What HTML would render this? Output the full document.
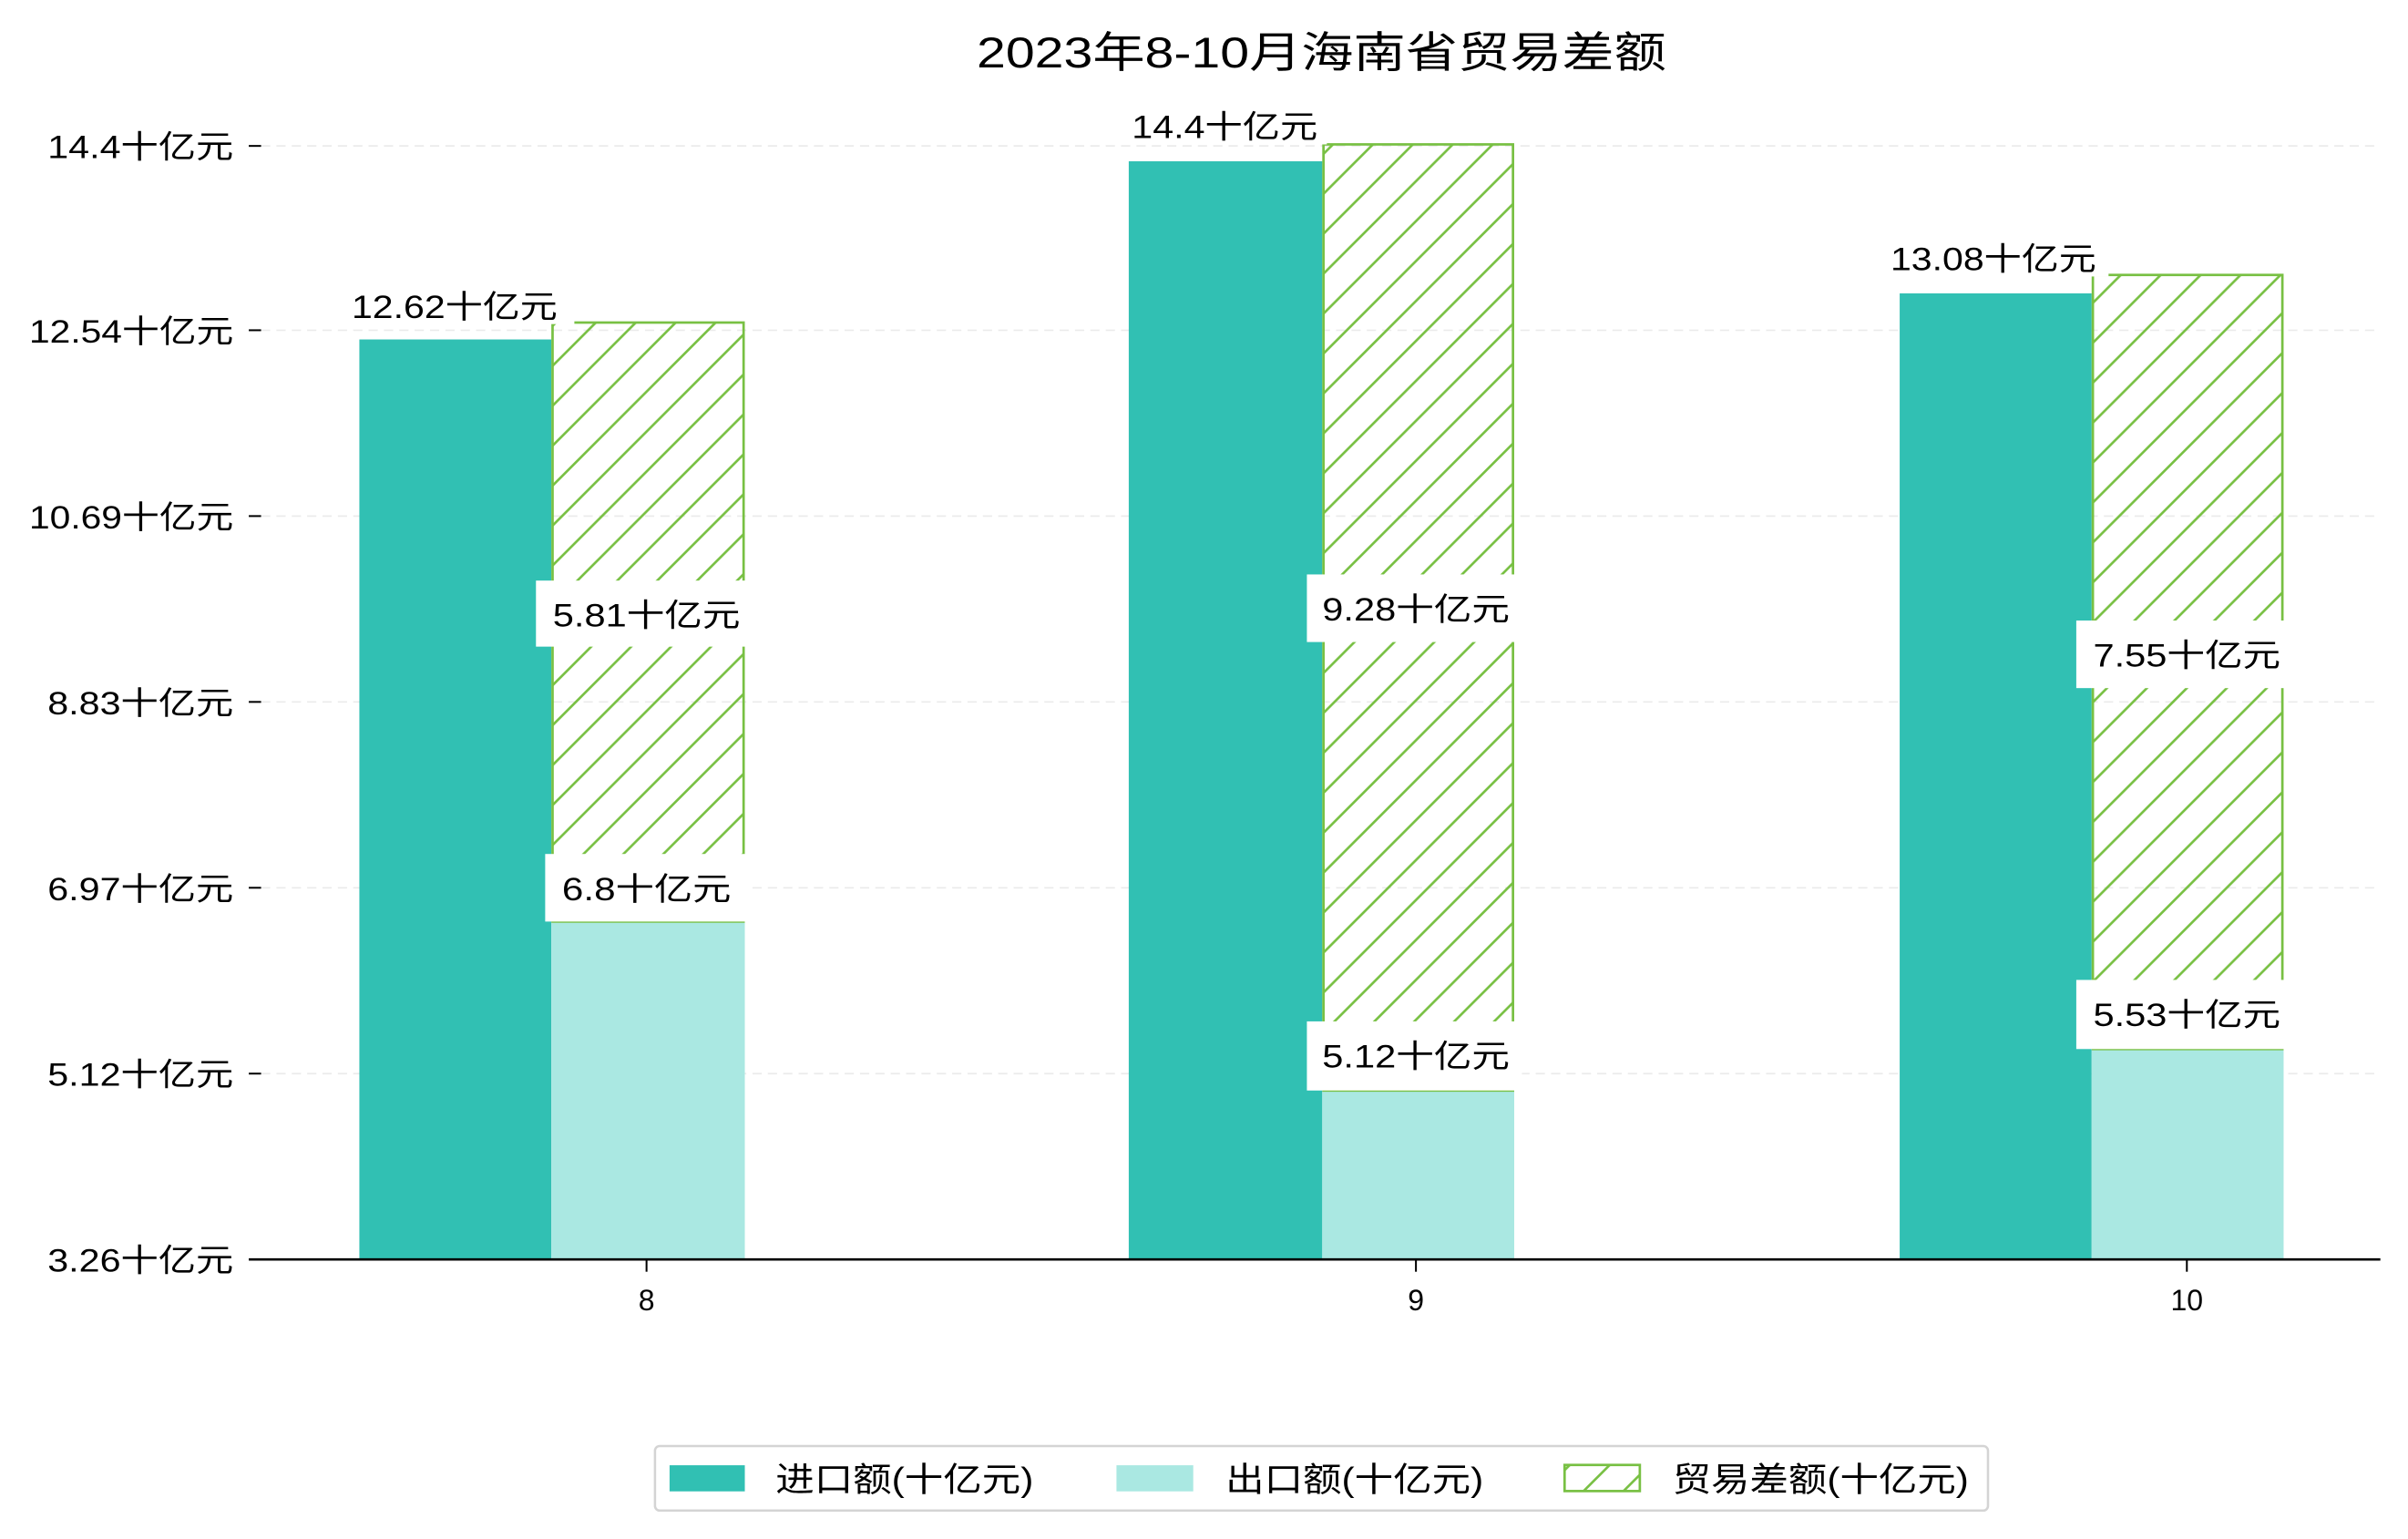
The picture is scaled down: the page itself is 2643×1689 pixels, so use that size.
<!DOCTYPE html>
<html><head><meta charset="utf-8"><style>
html,body{margin:0;padding:0;background:#fff;}
svg{display:block;}
text{font-family:"Liberation Sans","Noto Sans CJK SC",sans-serif;fill:#000;}
</style></head><body>
<svg width="2643" height="1689" viewBox="0 0 1568 1002" xmlns="http://www.w3.org/2000/svg">
<defs>
<pattern id="h" patternUnits="userSpaceOnUse" width="26" height="26">
<path d="M-2,28 L28,-2 M-15,15 L15,-15 M11,41 L41,11" stroke="#78c043" stroke-width="1.6"/>
</pattern>
</defs>
<rect width="1568" height="1002" fill="#fff"/>
<text x="636" y="44" font-size="28" textLength="449" lengthAdjust="spacingAndGlyphs">2023年8-10月海南省贸易差额</text>
<g stroke="#ebebeb" stroke-width="1" stroke-dasharray="6,4">
<line x1="170" y1="95" x2="1550" y2="95"/><line x1="170" y1="215" x2="1550" y2="215"/>
<line x1="170" y1="336" x2="1550" y2="336"/><line x1="170" y1="457" x2="1550" y2="457"/>
<line x1="170" y1="578" x2="1550" y2="578"/><line x1="170" y1="699" x2="1550" y2="699"/>
</g>
<g stroke="#000" stroke-width="1.2">
<line x1="162" y1="95" x2="170" y2="95"/><line x1="162" y1="215" x2="170" y2="215"/>
<line x1="162" y1="336" x2="170" y2="336"/><line x1="162" y1="457" x2="170" y2="457"/>
<line x1="162" y1="578" x2="170" y2="578"/><line x1="162" y1="699" x2="170" y2="699"/>
<line x1="421" y1="820" x2="421" y2="828"/><line x1="922" y1="820" x2="922" y2="828"/><line x1="1424" y1="820" x2="1424" y2="828"/>
</g>
<g font-size="21" lengthAdjust="spacingAndGlyphs">
<text x="31" y="103" textLength="121" lengthAdjust="spacingAndGlyphs">14.4十亿元</text>
<text x="19" y="223" textLength="133" lengthAdjust="spacingAndGlyphs">12.54十亿元</text>
<text x="19" y="344" textLength="133" lengthAdjust="spacingAndGlyphs">10.69十亿元</text>
<text x="31" y="465" textLength="121" lengthAdjust="spacingAndGlyphs">8.83十亿元</text>
<text x="31" y="586" textLength="121" lengthAdjust="spacingAndGlyphs">6.97十亿元</text>
<text x="31" y="707" textLength="121" lengthAdjust="spacingAndGlyphs">5.12十亿元</text>
<text x="31" y="828" textLength="121" lengthAdjust="spacingAndGlyphs">3.26十亿元</text>
</g>
<g font-size="19" text-anchor="middle">
<text x="421" y="853">8</text><text x="922" y="853">9</text><text x="1424" y="853">10</text>
</g>
<g fill="#31c0b3">
<rect x="234" y="221" width="125" height="599"/>
<rect x="735" y="105" width="126" height="715"/>
<rect x="1237" y="191" width="125" height="629"/>
</g>
<g fill="#aae8e2">
<rect x="359" y="600" width="126" height="220"/>
<rect x="861" y="710" width="125" height="110"/>
<rect x="1362" y="683" width="125" height="137"/>
</g>
<g stroke="#78c043" stroke-width="1.6" fill="url(#h)">
<rect x="359.8" y="210" width="124.4" height="390"/>
<rect x="861.8" y="94" width="123.4" height="616"/>
<rect x="1362.8" y="179" width="123.4" height="504"/>
</g>
<g fill="#fff">
<rect x="222" y="184" width="152" height="27"/>
<rect x="349" y="378" width="140" height="43"/>
<rect x="355" y="556" width="132" height="44"/>
<rect x="728" y="67" width="136" height="27"/>
<rect x="851" y="374" width="140" height="44"/>
<rect x="851" y="665" width="140" height="45"/>
<rect x="1225" y="153" width="148" height="27"/>
<rect x="1352" y="404" width="140" height="44"/>
<rect x="1352" y="638" width="140" height="45"/>
</g>
<g font-size="21">
<text x="229" y="207" textLength="134" lengthAdjust="spacingAndGlyphs">12.62十亿元</text>
<text x="360" y="408" textLength="122" lengthAdjust="spacingAndGlyphs">5.81十亿元</text>
<text x="366" y="586" textLength="110" lengthAdjust="spacingAndGlyphs">6.8十亿元</text>
<text x="737" y="90" textLength="121" lengthAdjust="spacingAndGlyphs">14.4十亿元</text>
<text x="861" y="404" textLength="122" lengthAdjust="spacingAndGlyphs">9.28十亿元</text>
<text x="861" y="695" textLength="122" lengthAdjust="spacingAndGlyphs">5.12十亿元</text>
<text x="1231" y="176" textLength="134" lengthAdjust="spacingAndGlyphs">13.08十亿元</text>
<text x="1363" y="434" textLength="122" lengthAdjust="spacingAndGlyphs">7.55十亿元</text>
<text x="1363" y="668" textLength="122" lengthAdjust="spacingAndGlyphs">5.53十亿元</text>
</g>
<line x1="162" y1="820" x2="1550" y2="820" stroke="#000" stroke-width="1.6"/>
<rect x="426.5" y="941.5" width="868" height="42" rx="3" fill="#fff" stroke="#d4d4d4" stroke-width="1.5"/>
<rect x="436" y="954" width="49" height="17" fill="#31c0b3"/>
<rect x="727" y="954" width="50" height="17" fill="#aae8e2"/>
<rect x="1018.8" y="953.8" width="49" height="17" fill="url(#h)" stroke="#78c043" stroke-width="1.6"/>
<g font-size="22">
<text x="505" y="971" textLength="168" lengthAdjust="spacingAndGlyphs">进口额(十亿元)</text>
<text x="798" y="971" textLength="168" lengthAdjust="spacingAndGlyphs">出口额(十亿元)</text>
<text x="1089" y="971" textLength="193" lengthAdjust="spacingAndGlyphs">贸易差额(十亿元)</text>
</g>
</svg>
</body></html>
